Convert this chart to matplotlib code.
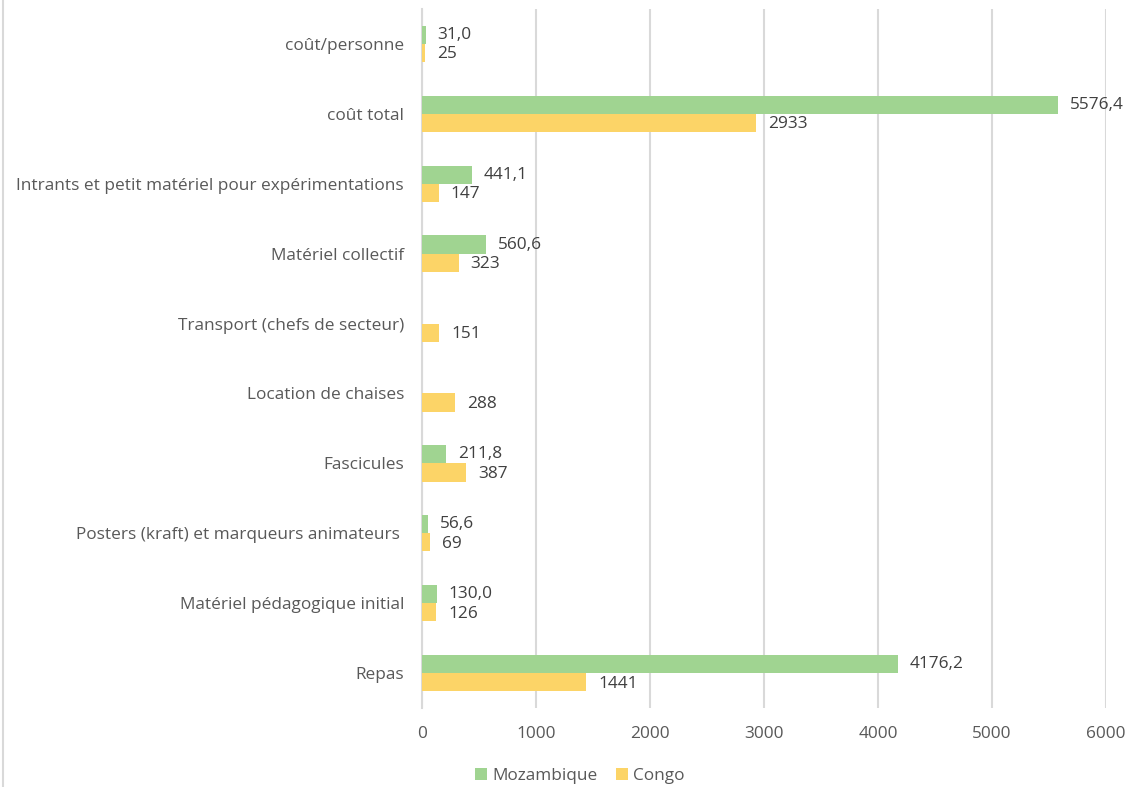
import matplotlib.pyplot as plt
import numpy as np

plt.rcParams['font.family'] = ['Open Sans', 'DejaVu Sans']

categories = ["Repas", "Matériel pédagogique initial", "Posters (kraft) et marqueurs animateurs ",
              "Fascicules", "Location de chaises", "Transport (chefs de secteur)",
              "Matériel collectif", "Intrants et petit matériel pour expérimentations",
              "coût total", "coût/personne"]
mozambique = [4176.2, 130.0, 56.6, 211.8, None, None, 560.6, 441.1, 5576.4, 31.0]
congo = [1441, 126, 69, 387, 288, 151, 323, 147, 2933, 25]

green = "#A0D491"
yellow = "#FCD467"
txt = "#595959"
fs = 12.4

fig = plt.figure(figsize=(11.26, 7.87), dpi=100)
ax = fig.add_axes([0.3748, 0.1004, 0.6074, 0.8882])

y = np.arange(len(categories))
h = 0.26
moz_vals = [v if v is not None else 0 for v in mozambique]
ax.barh(y + h / 2, moz_vals, height=h, color=green, label="Mozambique", zorder=3)
ax.barh(y - h / 2, congo, height=h, color=yellow, label="Congo", zorder=3)

for i, v in enumerate(mozambique):
    if v is not None:
        ax.annotate(f"{v:.1f}".replace(".", ","), (v, i + h / 2), xytext=(8.5, 0),
                    textcoords="offset points", va="center", ha="left",
                    fontsize=fs, color="#404040")
for i, v in enumerate(congo):
    ax.annotate(str(v), (v, i - h / 2), xytext=(8.5, -1),
                textcoords="offset points", va="center", ha="left",
                fontsize=fs, color="#404040")

ax.set_xlim(0, 6000)
ax.set_ylim(-0.5, len(categories) - 0.5)
ax.set_xticks(range(0, 6001, 1000))
ax.set_yticks(y)
ax.set_yticklabels(categories)
ax.tick_params(axis="both", length=0, colors=txt, labelsize=fs)
ax.tick_params(axis="y", pad=13)
ax.tick_params(axis="x", pad=13)
ax.grid(axis="x", color="#D9D9D9", linewidth=1.5, zorder=0)
for s in ["top", "right", "bottom"]:
    ax.spines[s].set_visible(False)
ax.spines["left"].set_color("#D9D9D9")
ax.spines["left"].set_linewidth(1.5)

handles, labels = ax.get_legend_handles_labels()
fig.legend(handles, labels, loc="center", bbox_to_anchor=(0.515, 0.014), ncol=2,
           frameon=False, fontsize=fs, labelcolor=txt, handlelength=0.7,
           handleheight=0.7, columnspacing=1.1, handletextpad=0.3)

# thin frame line on left side of picture
fig.add_artist(plt.Line2D([0.003, 0.003], [0, 1], color="#D9D9D9", linewidth=1.5))

fig.savefig("out.png", dpi=100)
